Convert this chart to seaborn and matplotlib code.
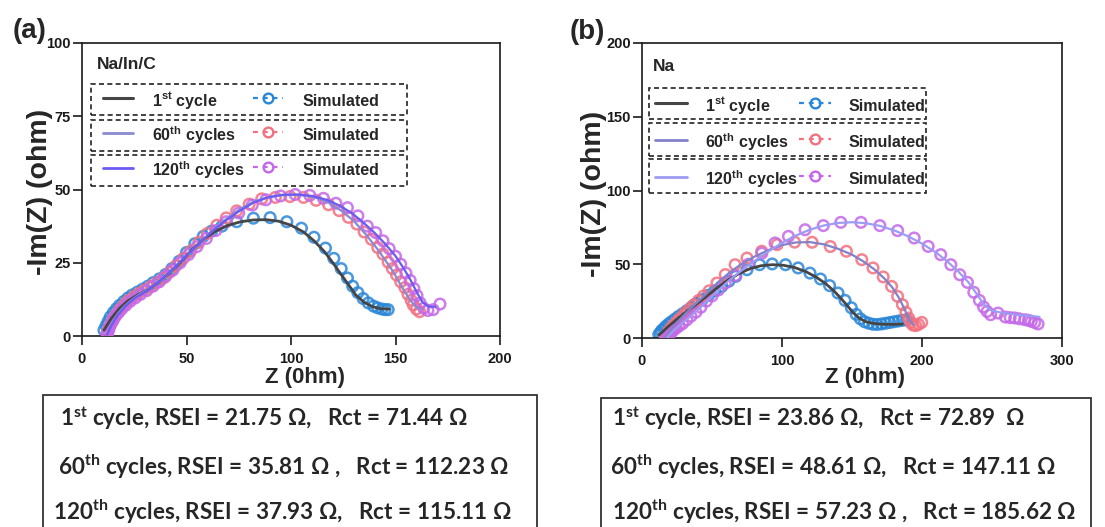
import numpy as np
import pandas as pd
import matplotlib
matplotlib.use("Agg")
import matplotlib.pyplot as plt
from matplotlib.lines import Line2D
from matplotlib.patches import Rectangle
import seaborn as sns

# ---------------- data ----------------
# Panel (a) Na/In/C
a1_line_x = [10.5, 14, 18, 22, 27, 32, 37, 42, 47, 52, 58, 64, 70, 76, 82, 88, 94, 100, 106, 111, 116, 120, 124, 127.5, 131, 135, 139, 143, 147]
a1_line_y = [2, 6, 9.5, 12, 14.2, 16, 18.5, 21.5, 25, 29, 33, 35.8, 37.8, 39, 39.6, 39.7, 39.2, 37.8, 35.5, 32.5, 28.8, 25, 21, 17.5, 14, 11.5, 10, 9.3, 9.2]
a1_sim_x = [10.5, 11.5, 12.5, 13.5, 15, 16.5, 18, 20, 22, 24, 26.5, 29, 31.5, 34, 37, 40, 43, 46.5, 50, 54, 58, 62, 67, 74, 82, 90, 98, 105, 111, 116.5, 120.5, 124, 127, 129.5, 132, 134.5, 137, 139.5, 141.5, 143.5, 145, 146.5]
a1_sim_y = [2, 3.5, 5, 6.5, 8, 9.3, 10.5, 11.8, 13, 14, 15, 16, 17, 18.2, 19.5, 21, 23, 25.5, 28.5, 31.5, 34, 35.8, 37.5, 39, 40.2, 40.4, 39, 36.8, 33.7, 30, 26.5, 23, 19.8, 17, 14.8, 12.8, 11.3, 10.2, 9.6, 9.2, 9.0, 9.0]

a60_line_x = [12, 14, 17, 20, 24, 28, 33, 38, 43, 48, 53, 58, 64, 70, 76, 82, 88, 94, 100, 106, 112, 118, 124, 130, 136, 141, 145, 149, 152, 155, 157.5, 160, 162]
a60_line_y = [1, 4, 7.5, 10, 12.5, 14.5, 16.5, 19, 22.3, 26, 29.5, 33, 37, 40.5, 43.5, 45.8, 47.2, 48, 48.2, 48, 47.2, 45.5, 42.8, 39.3, 34.5, 30, 26, 21.8, 18, 14.5, 11.8, 9.8, 9.2]
a60_sim_x = [12, 12.5, 13, 14, 15, 16.5, 18, 20, 22, 24.5, 27, 30, 33, 36, 39, 42, 45, 48.5, 52, 56, 60, 64.5, 69, 74, 80, 86, 92.5, 99.5, 106, 112, 118, 123, 127.5, 131.5, 135, 138.5, 141.5, 144, 146.5, 148.5, 150.5, 152.5, 154.5, 156, 157.5, 158.5, 160, 161.5]
a60_sim_y = [1, 2, 3, 4.5, 6, 7.5, 9, 10.5, 12, 13.3, 14.5, 15.7, 17, 18.3, 19.8, 21.8, 24, 26.5, 29, 32, 35, 37.8, 40.3, 42.7, 45, 46.8, 47.3, 47.6, 47.3, 46.3, 44.8, 42.8, 40.5, 38.2, 35.5, 33, 30.2, 28, 25.2, 23, 20.8, 18.5, 16.5, 14.2, 12.2, 10.6, 9.2, 8.3]

a120_line_x = [12, 14, 17, 21, 25, 30, 35, 40, 45, 50, 56, 62, 68, 75, 82, 89, 96, 103, 110, 117, 123, 129, 135, 140, 145, 150, 154, 157.5, 160.5, 163, 166, 169]
a120_line_y = [0.5, 3.5, 7, 10.3, 12.8, 15, 17.5, 20.5, 24, 27.5, 31.5, 35.5, 39, 42.5, 45.5, 47.3, 48.2, 48.3, 47.8, 46.5, 44.6, 42, 38.5, 35.2, 31.5, 27.3, 23, 18.7, 14.5, 11.5, 10, 10]
a120_sim_x = [12, 12.3, 12.7, 13.2, 14, 15, 16, 17.5, 19, 21, 23, 25.5, 28, 31, 34, 37, 40, 43.5, 47, 51, 55, 59.5, 64, 69, 75, 81.5, 88, 95, 102, 109, 115.5, 121.5, 127, 132, 136.5, 140.5, 144, 147, 150, 152.5, 155, 157, 158.8, 160.3, 161.8, 163.5, 165.5, 168, 171.3]
a120_sim_y = [0.3, 1, 2, 3, 4.3, 5.5, 6.7, 8, 9.2, 10.5, 11.8, 13, 14.2, 15.5, 17, 18.5, 20.3, 22.5, 25, 27.8, 30.5, 33.3, 36, 39, 42, 44.7, 46.5, 47.8, 48.3, 48, 47, 45.3, 43.8, 41, 37.5, 35.3, 32.5, 29.8, 27.2, 24.5, 21.5, 19, 16.2, 13.8, 11.3, 9.5, 8.7, 9, 10.9]

# Panel (b) Na
b1_line_x = [12, 15, 19, 24, 30, 37, 45, 53, 61, 69, 77, 85, 93, 101, 109, 117, 124, 131, 137, 142, 147, 151, 155, 160, 166, 173, 180, 186]
b1_line_y = [2, 4.5, 8, 12, 16.5, 21.5, 27.5, 33.5, 39, 43.5, 47, 49, 49.7, 49.3, 47.8, 45, 41.5, 37, 32, 27, 21.5, 17, 13.5, 11, 9.8, 9.3, 9.2, 9.5]
b1_sim_x = [12, 13, 14, 15.5, 17, 19, 21, 23.5, 26, 29, 32, 35.5, 39, 43, 47.5, 52, 57, 62, 67, 75, 84, 93, 102.5, 111.5, 120, 127.5, 134, 140, 145, 149.5, 153, 156, 159, 162, 165, 168, 171, 174, 177, 180, 183, 186, 189]
b1_sim_y = [2.3, 3.5, 5, 6.3, 7.9, 9.5, 11, 12.8, 14.6, 16.5, 18.5, 21, 23.5, 26, 29, 32, 35, 38.5, 41.8, 46.3, 49.7, 50.2, 49.7, 47.5, 44, 40, 35.5, 30.5, 25.5, 20.5, 16, 13, 11, 10, 9.3, 9.2, 9.5, 10, 10.5, 11, 11.5, 12, 12.2]

b60_line_x = [17, 20, 25, 31, 38, 46, 54, 62, 70, 80, 90, 100, 110, 120, 130, 140, 150, 158, 166, 173, 179, 184, 188, 191, 194]
b60_line_y = [0.5, 5, 10.5, 16.5, 23, 30, 37.5, 44, 49.5, 55, 59.5, 63, 64.8, 65, 63.5, 60.5, 56.5, 52, 46.5, 40.5, 34, 26.5, 18.5, 12, 9]
b60_sim_x = [16.6, 17.2, 18, 19, 20.5, 22, 24, 26, 28.5, 31, 34, 37, 40.5, 44, 48, 53.5, 59.5, 66.5, 75, 85.5, 96.5, 109, 121.5, 134.5, 146, 157, 165, 172.3, 178.3, 182.6, 186, 188.5, 190.5, 192, 193.5, 195.5, 197.5, 199.8]
b60_sim_y = [0, 1.5, 3, 4.5, 6.3, 8, 10, 12.2, 14.5, 17, 19.8, 22.5, 25.5, 28.5, 32, 37.3, 43, 49.7, 54.2, 58.8, 63.3, 65, 64.9, 62, 58.8, 53.1, 47.5, 41.4, 35, 28.2, 22.6, 17.5, 13.5, 10.5, 8.8, 8.4, 9.2, 10.6]

b120_line_x = [18, 22, 28, 35, 43, 52, 61, 70, 80, 90, 100, 110, 120, 130, 140, 150, 160, 170, 180, 190, 200, 210, 218, 226, 233, 239, 244, 249, 255, 262, 270, 277, 284]
b120_line_y = [0.5, 4.5, 9.5, 15, 22, 30, 38, 45, 52, 58.5, 64.5, 69.5, 73.5, 76.3, 78, 78.5, 77.8, 76, 73, 69, 64, 58, 52, 45, 38, 30, 23, 19, 17.5, 16.5, 15.5, 15, 14.3]
b120_sim_x = [17.8, 18.5, 19.5, 21, 22.5, 24.5, 26.5, 29, 32, 35, 38.5, 42, 46, 50, 54.5, 59.5, 66.6, 76, 85.6, 95, 104.6, 116.5, 129.5, 142, 156.4, 169.9, 182.6, 194.4, 204.4, 213.4, 220.6, 227, 232.5, 237, 241, 244, 246.5, 249, 254.3, 259.6, 263, 266.2, 269.5, 273.4, 276, 278.1, 280.5, 282.9]
b120_sim_y = [0, 1.3, 2.6, 4, 5.3, 6.8, 8.2, 9.8, 12.3, 14.8, 17.5, 20.8, 25, 28.5, 32.5, 37.3, 42.3, 50, 57.5, 64.4, 68.9, 73.4, 76.2, 78.4, 78.4, 76.2, 72.8, 67.8, 62.1, 56.5, 49.7, 42.9, 37.7, 31, 25.5, 21, 18, 15.8, 16.9, 14.2, 13.8, 13.6, 13, 12.4, 12, 11.3, 10.5, 9.5]

series_labels = ['1$^{\\mathrm{st}}$ cycle', '60$^{\\mathrm{th}}$ cycles', '120$^{\\mathrm{th}}$ cycles']
sim_label = 'Simulated'
panel_titles = ['Na/In/C', 'Na']
panel_tags = ['(a)', '(b)']
x_ticks = [[0, 50, 100, 150, 200], [0, 100, 200, 300]]
y_ticks = [[0, 25, 50, 75, 100], [0, 50, 100, 150, 200]]

info_a = ['1$^{\\mathsf{st}}$ cycle, RSEI = 21.75 Ω,   Rct = 71.44 Ω',
          '60$^{\\mathsf{th}}$ cycles, RSEI = 35.81 Ω ,   Rct = 112.23 Ω',
          '120$^{\\mathsf{th}}$ cycles, RSEI = 37.93 Ω,   Rct = 115.11 Ω']
info_b = ['1$^{\\mathsf{st}}$ cycle, RSEI = 23.86 Ω,   Rct = 72.89  Ω',
          '60$^{\\mathsf{th}}$ cycles, RSEI = 48.61 Ω,   Rct = 147.11 Ω',
          '120$^{\\mathsf{th}}$ cycles, RSEI = 57.23 Ω ,   Rct = 185.62 Ω']

# ---------------- style ----------------
sns.set_style('ticks')
plt.rcParams['font.family'] = ['Liberation Sans', 'DejaVu Sans']
plt.rcParams['font.weight'] = 'bold'
plt.rcParams['mathtext.fontset'] = 'custom'
plt.rcParams['mathtext.rm'] = 'Liberation Sans:bold'
plt.rcParams['mathtext.sf'] = 'Lato:bold'
plt.rcParams['axes.linewidth'] = 1.2

sim_colors = ['#2a86d8', '#f2707f', '#c468e8']
line_colors_a = ['#454545', '#8a8ad2', '#6a5cf2']
line_colors_b = ['#454545', '#8282c8', '#9c9cf4']

fig = plt.figure(figsize=(11.05, 5.27), dpi=100)
ax_a = fig.add_axes([82/1105, 1-336/527, 418/1105, 293/527])
ax_b = fig.add_axes([642/1105, 1-338/527, 420/1105, 295/527])

panels = [
    (ax_a, [(a1_line_x, a1_line_y), (a60_line_x, a60_line_y), (a120_line_x, a120_line_y)],
     [(a1_sim_x, a1_sim_y), (a60_sim_x, a60_sim_y), (a120_sim_x, a120_sim_y)], line_colors_a),
    (ax_b, [(b1_line_x, b1_line_y), (b60_line_x, b60_line_y), (b120_line_x, b120_line_y)],
     [(b1_sim_x, b1_sim_y), (b60_sim_x, b60_sim_y), (b120_sim_x, b120_sim_y)], line_colors_b),
]

FS = 11.5
for i, (ax, lines, sims, lcols) in enumerate(panels):
    for k in range(3):
        sx, sy = sims[k]
        sns.scatterplot(x=sx, y=sy, ax=ax, marker='o', s=58, facecolor='none',
                        edgecolor=sim_colors[k], linewidth=1.8, alpha=0.85, zorder=2 + k)
    for k in range(3):
        lx, ly = lines[k]
        sns.lineplot(x=lx, y=ly, ax=ax, sort=False, estimator=None, color=lcols[k],
                     lw=2.0 if k == 0 else 1.6, zorder=6 + k)
    ax.set_xlim(x_ticks[i][0], x_ticks[i][-1])
    ax.set_ylim(y_ticks[i][0], y_ticks[i][-1])
    ax.set_xticks(x_ticks[i])
    ax.set_yticks(y_ticks[i])
    for s in ax.spines.values():
        s.set_visible(True)
        s.set_linewidth(1.2)
        s.set_color('#1a1a1a')
    ax.tick_params(direction='out', length=6.5, width=1.2, labelsize=10.5, colors='#1a1a1a')
    ax.tick_params(axis='y', pad=1.5)
    ax.tick_params(axis='x', pad=5)
    for t in ax.get_xticklabels() + ax.get_yticklabels():
        t.set_fontweight('bold')
    ax.set_xlabel('Z (0hm)', fontsize=16, fontweight='bold')
    ax.set_ylabel('-Im(Z) (ohm)', fontsize=20.5, fontweight='bold')
    ax.text(0.036 if i == 0 else 0.026, 0.925 if i == 0 else 0.919, panel_titles[i],
            transform=ax.transAxes, fontsize=12.5, fontweight='bold', va='center', ha='left')

    # legend
    h_lines = [Line2D([0], [0], color=lcols[k], lw=2.2 if k == 0 else 2.0) for k in range(3)]
    h_sims = [Line2D([0], [0], color=sim_colors[k], lw=1.6, ls=(0, (2.2, 2.2)), marker='o',
                     mfc='none', mec=sim_colors[k], ms=7, mew=1.7) for k in range(3)]
    leg = ax.legend(handles=h_lines + h_sims, labels=series_labels + [sim_label] * 3,
                    ncol=2, frameon=False, loc='upper left',
                    bbox_to_anchor=((0.050, 0.841) if i == 0 else (0.031, 0.825)),
                    borderpad=0, borderaxespad=0, handlelength=1.9 if i == 0 else 2.0,
                    handleheight=1.7,
                    handletextpad=1.2 if i == 0 else 1.1, columnspacing=0.5 if i == 0 else 0.1,
                    labelspacing=0.81 if i == 0 else 0.94, prop={'weight': 'bold', 'size': FS})
    # dashed boxes per legend row
    if i == 0:
        x0, x1 = 0.0215, 0.7775
        rows = [(0.754, 0.860), (0.631, 0.737), (0.512, 0.618)]
    else:
        x0, x1 = 0.0167, 0.676
        rows = [(0.742, 0.847), (0.617, 0.729), (0.492, 0.607)]
    for (yb, yt) in rows:
        ax.add_patch(Rectangle((x0, yb), x1 - x0, yt - yb, transform=ax.transAxes, fill=False,
                               ec='#222222', lw=1.2, ls=(0, (3, 2)), zorder=10))

ax_a.xaxis.set_label_coords(0.533, -0.105)
ax_b.xaxis.set_label_coords(0.531, -0.098)
ax_a.yaxis.set_label_coords(-0.069, 0.49)
ax_b.yaxis.set_label_coords(-0.083, 0.49)

fig.text(13/1105, 1-31/527, panel_tags[0], fontsize=20, fontweight='bold', va='center', ha='left')
fig.text(570/1105, 1-32/527, panel_tags[1], fontsize=20, fontweight='bold', va='center', ha='left')

# info boxes
fig.add_artist(Rectangle((43/1105, -0.05), (537-43)/1105, 0.05 + 1-395/527, transform=fig.transFigure,
                         fill=False, ec='#333333', lw=1.3))
fig.add_artist(Rectangle((601/1105, -0.05), (1091-601)/1105, 0.05 + 1-398/527, transform=fig.transFigure,
                         fill=False, ec='#333333', lw=1.3))
ys = [1-418/527, 1-467/527, 1-512/527]
xa = [60, 58, 53]
xb = [612, 610, 612]
for k in range(3):
    fig.text(xa[k]/1105, ys[k], info_a[k], fontsize=16.2, fontweight='bold', va='center', ha='left',
             family=['Lato', 'DejaVu Sans'])
    fig.text(xb[k]/1105, ys[k], info_b[k], fontsize=16.2, fontweight='bold', va='center', ha='left',
             family=['Lato', 'DejaVu Sans'])

fig.savefig('out.png', dpi=100)
